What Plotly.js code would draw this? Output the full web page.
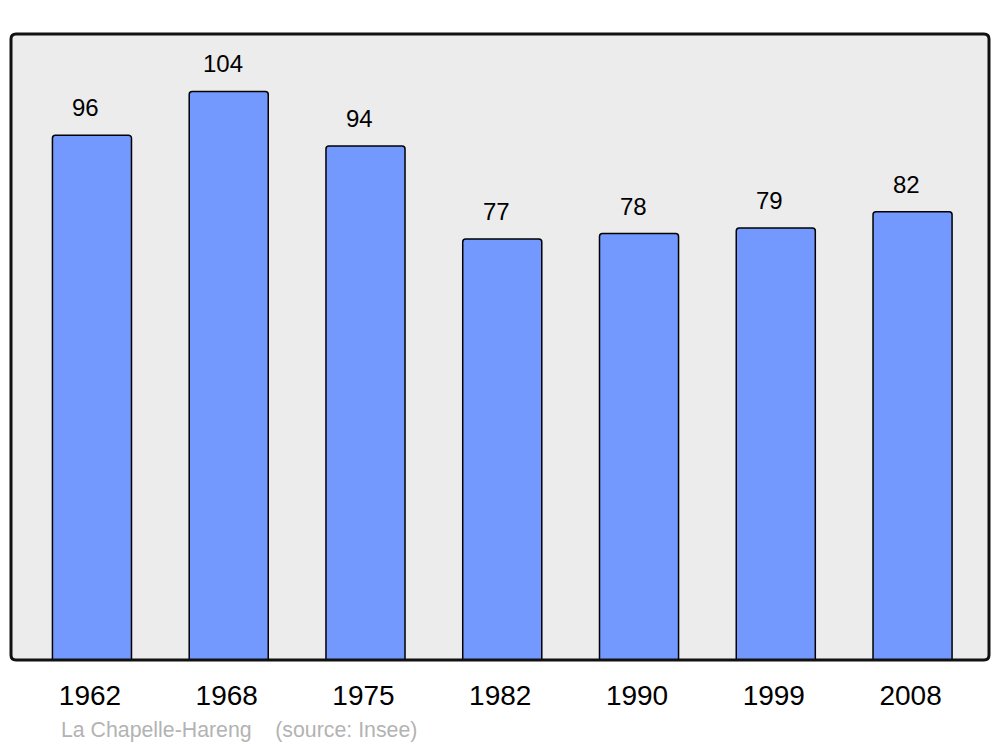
<!DOCTYPE html>
<html><head><meta charset="utf-8">
<script src="https://cdn.plot.ly/plotly-3.0.1.min.js"></script>
<style>html,body{margin:0;padding:0;background:#fff}</style>
</head><body><div id="chart" style="width:1000px;height:747px"></div>
<script>
var years = ['1962','1968','1975','1982','1990','1999','2008'];
var population = [96, 104, 94, 77, 78, 79, 82];
var footer = 'La Chapelle-Hareng\u00a0\u00a0\u00a0\u00a0(source: Insee)';

var idx = years.map(function(_, i){ return i; });
var W = 978, H = 626, r = 5;
var rx = r / W, ry = r / H;
var framePath = 'M ' + rx + ',0 L ' + (1 - rx) + ',0 Q 1,0 1,' + ry +
  ' L 1,' + (1 - ry) + ' Q 1,1 ' + (1 - rx) + ',1 L ' + rx + ',1 Q 0,1 0,' + (1 - ry) +
  ' L 0,' + ry + ' Q 0,0 ' + rx + ',0 Z';

var annotations = idx.map(function(i){
  return {x: i, y: population[i], xref: 'x', yref: 'y', text: String(population[i]),
    showarrow: false, yanchor: 'bottom', xanchor: 'center', xshift: -6, yshift: 12,
    font: {family: 'Liberation Sans, Arial, sans-serif', size: 24, color: '#000'}};
});
annotations.push({x: (59 - 11) / W, y: (660 - 730) / H, xref: 'paper', yref: 'paper', text: footer, showarrow: false,
  xanchor: 'left', yanchor: 'middle',
  font: {family: 'Liberation Sans, Arial, sans-serif', size: 21.3, color: '#b3b3b3'}});

var data = [{
  type: 'bar', x: idx, y: population, width: 0.578,
  marker: {color: '#7399ff', line: {color: '#000', width: 1.5}, cornerradius: 3},
  hoverinfo: 'none'
}];

var layout = {
  width: 1000, height: 747,
  margin: {l: 11, r: 11, t: 34, b: 87, pad: 0},
  paper_bgcolor: '#ffffff', plot_bgcolor: '#ececec',
  showlegend: false,
  xaxis: {range: [-0.592, 6.559], tickvals: idx, ticktext: years, showgrid: false, zeroline: false,
    showline: false, ticks: '', ticklabelstandoff: 16, ticklabelshift: -2,
    tickfont: {family: 'Liberation Sans, Arial, sans-serif', size: 28, color: '#000'}},
  yaxis: {range: [0, 114.5], showgrid: false, zeroline: false, showline: false, showticklabels: false, ticks: ''},
  shapes: [{type: 'path', xref: 'paper', yref: 'paper', path: framePath,
    line: {color: '#111', width: 3}, fillcolor: 'rgba(0,0,0,0)', layer: 'above'}],
  annotations: annotations
};
Plotly.newPlot('chart', data, layout, {displayModeBar: false, staticPlot: true});
</script></body></html>
